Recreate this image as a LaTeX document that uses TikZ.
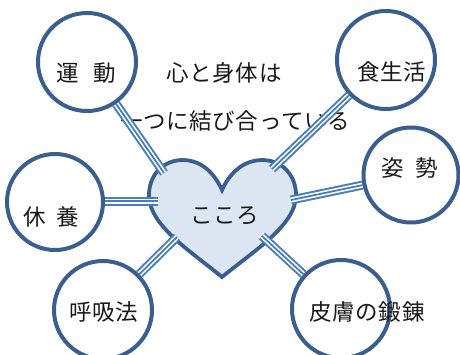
\documentclass[tikz,border=0pt]{standalone}
\usepackage{fontspec}
\newfontfamily\jp{Noto Sans CJK JP}[LetterSpace=3]
\pgfdeclarelayer{back}
\pgfdeclarelayer{mid}
\pgfsetlayers{back,mid,main}
\definecolor{ringblue}{HTML}{3A5F8E}
\definecolor{linkblue}{HTML}{4A7EBB}
\definecolor{heartfill}{HTML}{DCE6F2}
\tikzset{
  circ/.style={circle, draw=ringblue, line width=4pt, fill=white, minimum size=98pt, inner sep=0pt},
  lbl/.style={font=\jp\fontsize{22.5}{24}\selectfont, text=black!90, inner sep=0pt},
  link/.style={line width=9pt, draw=linkblue, postaction={draw=white, line width=5pt}, postaction={draw=linkblue, line width=1.8pt}},
}
\begin{document}
\begin{tikzpicture}[x=1pt,y=-1pt]
\useasboundingbox (0,0) rectangle (460,354);
% circles
\node[circ] (c1) at (87,62) {};
\node[circ] (c2) at (386,60) {};
\node[circ, minimum size=95pt] (c3) at (411,175) {};
\node[circ, minimum size=96pt] (c4) at (55,202) {};
\node[circ] (c5) at (103,310) {};
\node[circ] (c6) at (341,309) {};
% heart
\begin{pgfonlayer}{back}
\path[fill=heartfill, draw=ringblue, line width=3.8pt, line join=miter]
  (222,190) .. controls (232,168) and (248,160) .. (262,160)
  .. controls (282,160) and (296,175) .. (296,195)
  .. controls (296,225) and (255,250) .. (222,277)
  .. controls (189,250) and (149,225) .. (149,195)
  .. controls (149,175) and (163,160) .. (183,160)
  .. controls (197,160) and (212,168) .. (222,190) -- cycle;
\node[lbl] (heart) at (225,216) {こころ};
\node[lbl] (title1) at (224,73) {心と身体は};
\node[lbl] (title2) at (235,121) {一つに結び合っている};
\end{pgfonlayer}
% connector ends on the heart
\coordinate (h1) at (164,173);
\coordinate (h2) at (272,169);
\coordinate (h3) at (291,200);
\coordinate (h4) at (158,201);
\coordinate (h5) at (177,237);
\coordinate (h6) at (262,236);
\coordinate (s4) at (95,201);
\begin{pgfonlayer}{mid}
\draw[link] (c1) -- (h1);
\draw[link] (c2) -- (h2);
\draw[link] (c3) -- (h3);
\draw[link] (s4) -- (h4);
\draw[link] (c5) -- (h5);
\draw[link] (c6) -- (h6);
\end{pgfonlayer}
% labels
\node[lbl] (t1) at (86,73) {運\hspace{15pt}動};
\node[lbl] (t2) at (392,72) {食生活};
\node[lbl] (t3) at (410,168) {姿\hspace{12pt}勢};
\node[lbl] (t4) at (51,217) {休\hspace{11pt}養};
\node[lbl] (t5) at (104,312) {呼吸法};
\node[lbl] (t6) at (367,312) {皮膚の鍛錬};
\end{tikzpicture}
\end{document}
